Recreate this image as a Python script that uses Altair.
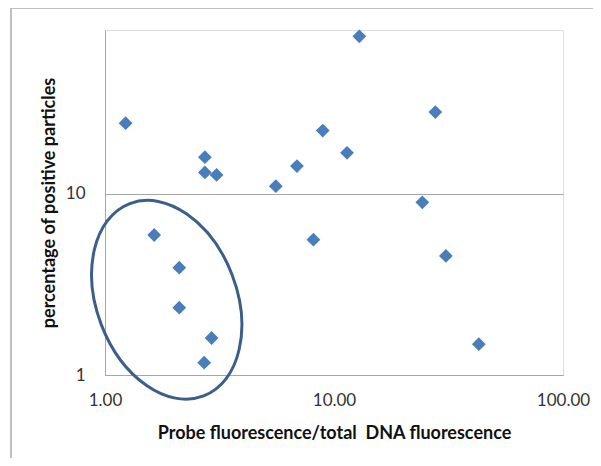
import altair as alt
import pandas as pd

# Data (log-log scatter)
x_vals = [1.23, 2.73, 2.73, 3.07, 5.57, 6.89, 8.93, 11.4, 12.9, 27.7, 24.3,
          8.13, 30.8, 42.9, 1.64, 2.11, 2.11, 2.92, 2.71]
y_vals = [24.5, 15.9, 13.1, 12.7, 11.0, 14.2, 22.3, 16.8, 73.8, 28.2, 8.96,
          5.58, 4.54, 1.48, 5.92, 3.91, 2.35, 1.60, 1.17]

# Annotation ellipse centre (data coordinates)
ell_x = [1.86]
ell_y = [2.6]

x_ticks = [1, 10, 100]
y_ticks = [1, 10]

df = pd.DataFrame({"x": x_vals, "y": y_vals})
ell = pd.DataFrame({"x": ell_x, "y": ell_y})

W, H = 458, 345
FONT = "Lato"

xscale = alt.Scale(type="log", domain=[1, 100], nice=False, zero=False)
yscale = alt.Scale(type="log", domain=[1, 80], nice=False, zero=False)

xaxis = alt.Axis(
    values=x_ticks, format=".2f", grid=False, ticks=False, tickSize=0,
    domainColor="#a6a6a6", domainWidth=1,
    labelFont=FONT, labelFontSize=17, labelColor="#333333", labelPadding=17,
    labelFlush=False,
    title="Probe fluorescence/total\u00a0 DNA fluorescence",
    titleFont=FONT, titleFontSize=18, titleFontWeight="bold", titleColor="#111111",
    titleX=W / 2, titleY=58, titleBaseline="middle", titleAlign="center",
)
yaxis = alt.Axis(
    values=y_ticks, format="d", grid=True, gridColor="#a6a6a6", gridWidth=1,
    ticks=False, tickSize=0,
    domainColor="#a6a6a6", domainWidth=1,
    labelFont=FONT, labelFontSize=17, labelColor="#333333", labelPadding=20,
    labelFlush=False,
    title="percentage of positive particles",
    titleFont=FONT, titleFontSize=18, titleFontWeight="bold", titleColor="#111111",
    titleX=-56, titleY=H / 2, titleBaseline="middle", titleAlign="center", titleAngle=270,
)

points = alt.Chart(df).mark_point(
    shape="diamond", filled=True, size=190, color="#4a7ebb", opacity=1
).encode(
    x=alt.X("x:Q", scale=xscale, axis=xaxis),
    y=alt.Y("y:Q", scale=yscale, axis=yaxis),
)

rx, ry = 70, 103
k = 0.5523
ell_path = (
    f"M 0 {-ry} C {rx*k:.2f} {-ry} {rx} {-ry*k:.2f} {rx} 0 "
    f"C {rx} {ry*k:.2f} {rx*k:.2f} {ry} 0 {ry} "
    f"C {-rx*k:.2f} {ry} {-rx} {ry*k:.2f} {-rx} 0 "
    f"C {-rx} {-ry*k:.2f} {-rx*k:.2f} {-ry} 0 {-ry} Z"
)

ellipse = alt.Chart(ell).mark_point(
    shape=ell_path, size=4, filled=False, stroke="#3b5f8a", strokeWidth=3,
    angle=339, opacity=1
).encode(
    x=alt.X("x:Q", scale=xscale),
    y=alt.Y("y:Q", scale=yscale),
)

frame_left = alt.Chart(df).mark_rule(color="#bfbfbf", strokeWidth=1.5).encode(
    x=alt.value(-94), y=alt.value(-22), y2=alt.value(H + 90)
)
frame_top = alt.Chart(df).mark_rule(color="#bfbfbf", strokeWidth=1.5).encode(
    x=alt.value(-94), x2=alt.value(W + 40), y=alt.value(-22)
)

chart = alt.layer(frame_left, frame_top, points, ellipse).properties(
    width=W, height=H,
    autosize=alt.AutoSizeParams(type="none"),
    padding={"left": 97, "top": 22, "right": 30, "bottom": 83},
).configure_view(stroke=None).configure(background="white")

chart.save("out.html", embed_options={"renderer": "svg", "actions": False})
